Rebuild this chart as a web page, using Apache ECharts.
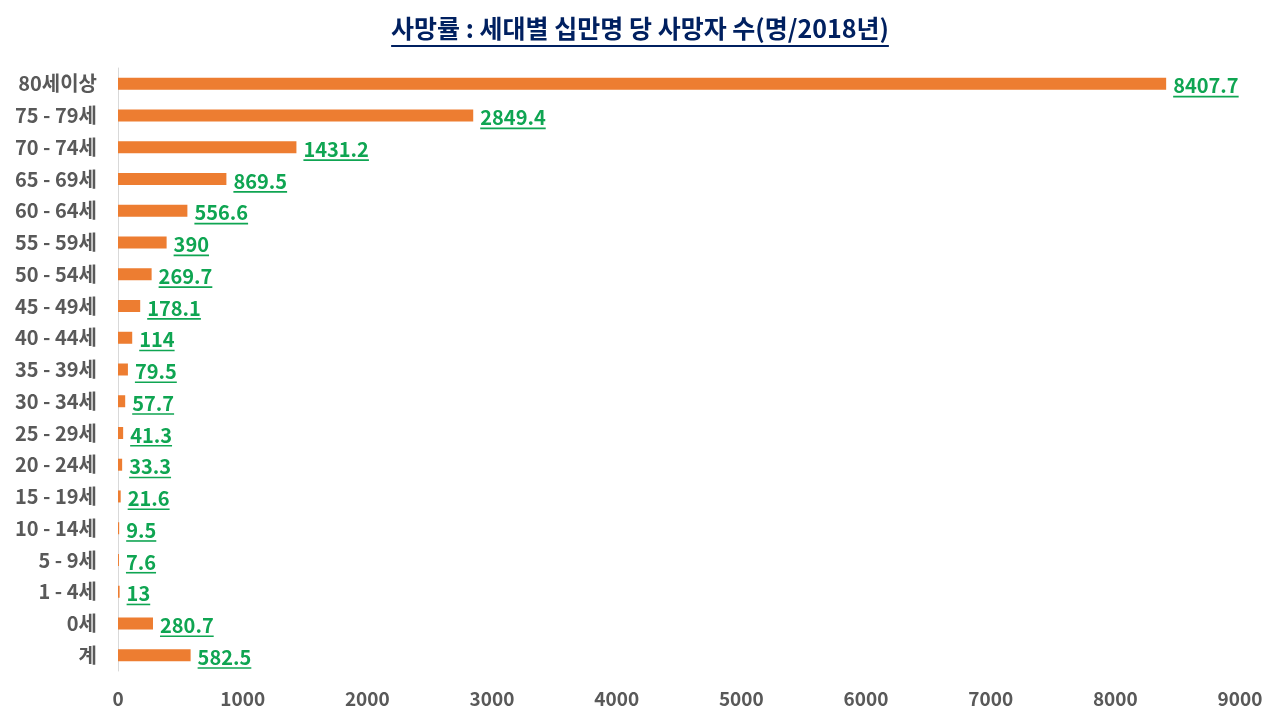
<!DOCTYPE html>
<html>
<head>
<meta charset="utf-8">
<script src="https://cdn.jsdelivr.net/npm/echarts@6/dist/echarts.min.js"></script>
<style>
  html, body { margin: 0; padding: 0; background: #fff; }
  #chart { width: 1280px; height: 720px; }
</style>
</head>
<body>
<div id="chart"></div>
<script>
var categories = ['80세이상', '75 - 79세', '70 - 74세', '65 - 69세', '60 - 64세', '55 - 59세',
    '50 - 54세', '45 - 49세', '40 - 44세', '35 - 39세', '30 - 34세', '25 - 29세',
    '20 - 24세', '15 - 19세', '10 - 14세', '5 - 9세', '1 - 4세', '0세', '계'];
var deathRates = [8407.7, 2849.4, 1431.2, 869.5, 556.6, 390, 269.7, 178.1, 114, 79.5,
    57.7, 41.3, 33.3, 21.6, 9.5, 7.6, 13, 280.7, 582.5];
var xTicks = [0, 1000, 2000, 3000, 4000, 5000, 6000, 7000, 8000, 9000];

var titleText = '사망률 : 세대별 십만명 당 사망자 수(명/2018년)';
var fontFamily = '"Noto Sans CJK KR", "Noto Sans", sans-serif';
var labelFont = 'bold 20px ' + fontFamily;
var titleFont = 'bold 25px ' + fontFamily;

var measureCtx = document.createElement('canvas').getContext('2d');
function textWidth(text, font) {
    measureCtx.font = font;
    return measureCtx.measureText(text).width;
}

var labelData = deathRates.map(function (v, i) {
    return [v, i];
});

var titleW = textWidth(titleText, titleFont);

var option = {
    backgroundColor: '#fff',
    animation: false,
    grid: {
        left: 118,
        right: 40,
        top: 68,
        bottom: 49
    },
    xAxis: {
        type: 'value',
        min: xTicks[0],
        max: xTicks[xTicks.length - 1],
        interval: 1000,
        axisLine: {show: false},
        axisTick: {show: false},
        splitLine: {show: false},
        axisLabel: {
            color: '#595959',
            fontSize: 19,
            fontWeight: 'bold',
            fontFamily: fontFamily,
            margin: 18,
            formatter: function (v) { return String(v); }
        }
    },
    yAxis: {
        type: 'category',
        inverse: true,
        data: categories,
        axisLine: {
            show: true,
            lineStyle: {color: '#d9d9d9', width: 1}
        },
        axisTick: {show: false},
        axisLabel: {
            color: '#595959',
            fontSize: 20,
            fontWeight: 'bold',
            fontFamily: fontFamily,
            margin: 21
        }
    },
    graphic: [{
        type: 'group',
        left: 'center',
        top: 16,
        children: [{
            type: 'text',
            x: 0,
            y: 0,
            style: {
                text: titleText,
                font: titleFont,
                fill: '#002060'
            }
        }, {
            type: 'rect',
            shape: {x: 0, y: 29, width: titleW, height: 2},
            style: {fill: '#002060'}
        }]
    }],
    series: [
        {
            name: '사망률',
            type: 'bar',
            barWidth: 12,
            itemStyle: {color: '#ed7d31'},
            data: deathRates
        },
        {
            name: 'labels',
            type: 'custom',
            silent: true,
            renderItem: function (params, api) {
                var pt = api.coord([api.value(0), api.value(1)]);
                var txt = String(deathRates[params.dataIndex]);
                var w = textWidth(txt, labelFont);
                var x = pt[0] + 7;
                return {
                    type: 'group',
                    children: [{
                        type: 'text',
                        x: x,
                        y: pt[1] + 2,
                        style: {
                            text: txt,
                            font: labelFont,
                            fill: '#0fa552',
                            verticalAlign: 'middle',
                            align: 'left'
                        }
                    }, {
                        type: 'rect',
                        shape: {x: x, y: pt[1] + 12, width: w, height: 1.6},
                        style: {fill: '#0fa552'}
                    }]
                };
            },
            encode: {x: 0, y: 1},
            data: labelData,
            z: 5
        }
    ]
};

var myChart = echarts.init(document.getElementById('chart'));
myChart.setOption(option);
</script>
</body>
</html>
